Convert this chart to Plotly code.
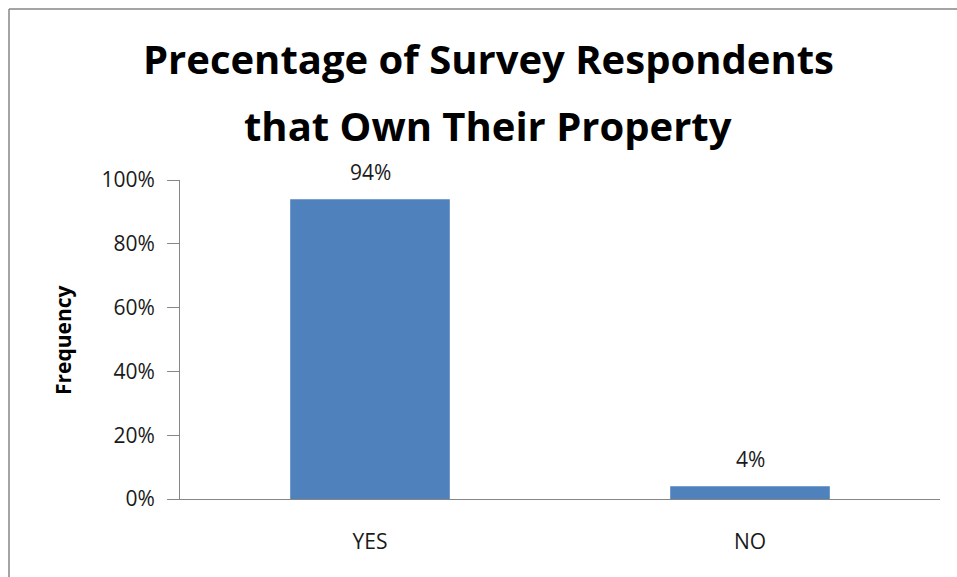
import plotly.graph_objects as go

categories = ["YES", "NO"]
values = [0.94, 0.04]
labels = ["94%", "4%"]
tick_vals = [0, 0.2, 0.4, 0.6, 0.8, 1.0]
tick_text = ["0%", "20%", "40%", "60%", "80%", "100%"]
title_lines = ["Precentage of Survey Respondents", "that Own Their Property"]

W, H = 957, 577
L, R, T, B = 180, 17, 180, 78
pw, ph = W - L - R, H - T - B

FONT = "Open Sans"
TXT = "#1a1a1a"

def px_x(p):
    return (p - L) / pw

def px_y(p):
    return (H - B - p) / ph

fig = go.Figure(go.Bar(
    x=categories, y=values,
    marker=dict(color="#4F81BD", line=dict(width=0)),
    width=0.42,
))

for c, v, t in zip(categories, values, labels):
    fig.add_annotation(x=c, y=v, xref="x", yref="y", text=t, showarrow=False,
                       yanchor="middle", yshift=27,
                       font=dict(family=FONT, size=21, color=TXT))

for line, yc in zip(title_lines, [59, 125.5]):
    fig.add_annotation(x=px_x(488), y=px_y(yc), xref="paper", yref="paper",
                       text="<b>" + line + "</b>", showarrow=False,
                       xanchor="center", yanchor="middle",
                       font=dict(family=FONT, size=40, color="#000000"))

fig.add_annotation(x=px_x(63), y=px_y(340), xref="paper", yref="paper",
                   text="<b>Frequency</b>", showarrow=False, textangle=-90,
                   xanchor="center", yanchor="middle",
                   font=dict(family=FONT, size=21, color="#000000"))

# outer chart border: top and left edges (right/bottom fall outside the view)
fig.add_shape(type="line", xref="paper", yref="paper",
              x0=px_x(9), x1=px_x(W + 30), y0=px_y(9), y1=px_y(9),
              line=dict(color="#868686", width=1.5), layer="below")
fig.add_shape(type="line", xref="paper", yref="paper",
              x0=px_x(9), x1=px_x(9), y0=px_y(9), y1=px_y(H + 30),
              line=dict(color="#868686", width=1.5), layer="below")

fig.update_layout(
    width=W, height=H,
    margin=dict(l=L, r=R, t=T, b=B, autoexpand=False),
    paper_bgcolor="white", plot_bgcolor="white",
    showlegend=False,
    xaxis=dict(showline=True, linecolor="#868686", linewidth=1, ticks="",
               tickfont=dict(family=FONT, size=21, color=TXT),
               showgrid=False, range=[-0.5, 1.5], ticklabelstandoff=24),
    yaxis=dict(range=[0, 1], tickvals=tick_vals, ticktext=tick_text,
               showline=True, linecolor="#868686", linewidth=1,
               ticks="outside", ticklen=12, tickcolor="#868686",
               tickfont=dict(family=FONT, size=21, color=TXT),
               showgrid=False, zeroline=False, ticklabelstandoff=8),
)

fig.write_html(
    "out.html",
    config={"displayModeBar": False},
    post_script="document.body.style.margin='0';document.body.style.overflow='hidden';",
)
